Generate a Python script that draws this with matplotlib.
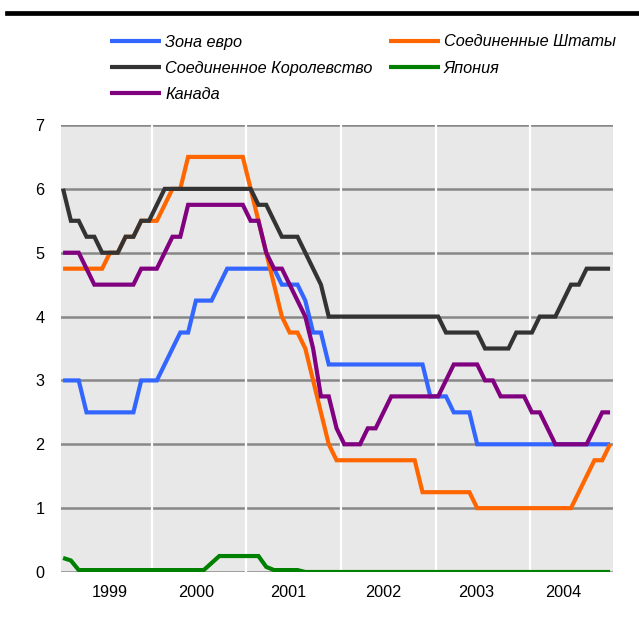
import numpy as np
import matplotlib
matplotlib.use("Agg")
import matplotlib.pyplot as plt
from matplotlib.lines import Line2D

plt.rcParams['font.family'] = ['Liberation Sans', 'DejaVu Sans']

# monthly policy rates, Jan 1999 .. Nov 2004 (71 months)
n_months = 71
x_first, x_last = 1999.06, 2004.846

euro = ([3.0] * 3 + [2.5] * 7 + [3.0] * 3 + [3.25, 3.5, 3.75, 3.75] + [4.25] * 3 + [4.5]
        + [4.75] * 7 + [4.5] * 3 + [4.25, 3.75, 3.75, 3.25] + [3.25] * 12
        + [2.75] * 3 + [2.5] * 3 + [2.0] * 18)
usa = ([4.75] * 6 + [5.0] * 2 + [5.25] * 2 + [5.5] * 3 + [5.75] + [6.0] * 2 + [6.5] * 8
       + [6.0, 5.5, 5.0, 4.5, 4.0, 3.75, 3.75, 3.5, 3.0, 2.5, 2.0] + [1.75] * 11
       + [1.25] * 7 + [1.0] * 13 + [1.25, 1.5, 1.75, 1.75, 2.0])
uk = ([6.0, 5.5, 5.5, 5.25, 5.25, 5.0, 5.0, 5.0, 5.25, 5.25, 5.5, 5.5, 5.75] + [6.0] * 12
      + [5.75, 5.75, 5.5, 5.25, 5.25, 5.25, 5.0, 4.75, 4.5, 4.0] + [4.0] * 14
      + [3.75] * 5 + [3.5] * 4 + [3.75] * 3 + [4.0] * 3 + [4.25, 4.5, 4.5] + [4.75] * 4)
japan = ([0.22, 0.18, 0.03] + [0.03] * 16 + [0.14] + [0.25] * 6 + [0.08]
         + [0.03] * 4 + [0.0] * 40)
canada = ([5.0] * 3 + [4.75] + [4.5] * 6 + [4.75] * 3 + [5.0, 5.25, 5.25] + [5.75] * 8
          + [5.5, 5.5, 5.0, 4.75, 4.75, 4.5, 4.25, 4.0, 3.5, 2.75, 2.75, 2.25]
          + [2.0] * 3 + [2.25] * 2 + [2.5] + [2.75] * 7 + [3.0] + [3.25] * 4
          + [3.0] * 2 + [2.75] * 4 + [2.5] * 2 + [2.25] + [2.0] * 5 + [2.25] + [2.5] * 2)

names = ['Зона евро', 'Соединенное Королевство', 'Канада', 'Соединенные Штаты', 'Япония']
colors = {'Зона евро': '#3366ff', 'Соединенные Штаты': '#ff6600',
          'Соединенное Королевство': '#333333', 'Япония': '#008000', 'Канада': '#800080'}
series = {'Зона евро': euro, 'Соединенные Штаты': usa, 'Соединенное Королевство': uk,
          'Япония': japan, 'Канада': canada}
draw_order = ['Зона евро', 'Соединенные Штаты', 'Соединенное Королевство', 'Япония', 'Канада']

year_bounds = [2000, 2001, 2002, 2003, 2004]
year_label_pos = [1999.556, 2000.473, 2001.438, 2002.442, 2003.432, 2004.355]
year_labels = ['1999', '2000', '2001', '2002', '2003', '2004']

x = np.linspace(x_first, x_last, n_months)

fig = plt.figure(figsize=(6.39, 6.19), dpi=100)
ax = fig.add_axes([61 / 639, 47 / 619, 551.7 / 639, 447 / 619])
ax.set_facecolor('#e8e8e8')

handles = {}
for i, nm in enumerate(draw_order):
    h, = ax.plot(x, series[nm], color=colors[nm], lw=3.0, zorder=3 + i,
                 solid_joinstyle='miter', solid_capstyle='butt')
    handles[nm] = h

for yb in year_bounds:
    ax.axvline(yb, color='white', lw=1.6, zorder=1)

ax.set_xlim(1999.038, 2004.874)
ax.set_ylim(0, 7)
ax.set_yticks(range(0, 8))
ax.set_xticks(year_label_pos, year_labels)
ax.set_axisbelow(True)
ax.yaxis.grid(True, color='#878787', lw=1.8)
ax.tick_params(axis='both', length=0, labelsize=11.7, colors='black')
ax.tick_params(axis='x', pad=9.5)
ax.tick_params(axis='y', pad=12)
for s in ax.spines.values():
    s.set_visible(False)

leg = fig.legend([handles[n] for n in names], names, ncol=2, loc='upper left',
                 bbox_to_anchor=(110 / 639, 1 - 34.5 / 619), frameon=False,
                 prop={'style': 'italic', 'size': 11.7}, handlelength=3.15,
                 handletextpad=0.25, columnspacing=1.0, labelspacing=0.68,
                 borderpad=0, borderaxespad=0)
for lh in leg.get_lines():
    lh.set_linewidth(3.0)

fig.add_artist(Line2D([7 / 639, 1], [1 - 13 / 619] * 2, color='black', lw=3.4))

fig.savefig('out.png', dpi=100)
